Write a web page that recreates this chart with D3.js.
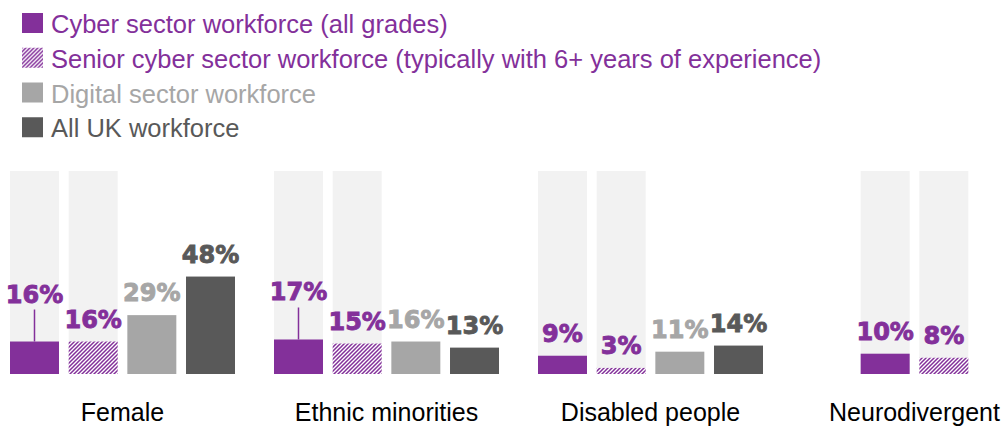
<!DOCTYPE html>
<html><head><meta charset="utf-8">
<script src="https://cdn.jsdelivr.net/npm/d3@7"></script>
<style>body{margin:0;background:#fff}svg{display:block}</style>
</head><body><svg id="c" width="1006" height="428"></svg>
<script>
// ---- data ----
const categories = ["Female", "Ethnic minorities", "Disabled people", "Neurodivergent"];
const seriesNames = [
  "Cyber sector workforce (all grades)",
  "Senior cyber sector workforce (typically with 6+ years of experience)",
  "Digital sector workforce",
  "All UK workforce"
];
const cyberAll    = [16, 17, 9, 10];
const cyberSenior = [16, 15, 3, 8];
const digital     = [29, 16, 11, null];
const allUK       = [48, 13, 14, null];
const liftedLabels = ["Female", "Ethnic minorities"]; // cyber labels drawn with a leader line
const fullScale = 100;

// ---- styles ----
const purple = "#83309a";
const colors = [purple, purple, "#a6a6a6", "#595959"];
const bgColor = "#f2f2f2";
const series = [cyberAll, cyberSenior, digital, allUK];

const svg = d3.select("#c");
const defs = svg.append("defs");
const pat = defs.append("pattern").attr("id", "hatch")
  .attr("patternUnits", "userSpaceOnUse").attr("width", 4).attr("height", 4);
pat.append("rect").attr("width", 4).attr("height", 4).attr("fill", "#fff");
pat.append("path").attr("d", "M-1,1 l2,-2 M0,4 l4,-4 M3,5 l2,-2")
  .attr("stroke", purple).attr("stroke-width", 1.5);

const fills = [purple, "url(#hatch)", colors[2], colors[3]];

// scales
const y = d3.scaleLinear().domain([0, fullScale]).range([374, 171]);
const x0 = d3.scaleBand().domain(categories).range([10, 1027]).paddingInner(39 / 264).paddingOuter(0);
const x1 = d3.scaleBand().domain(d3.range(4)).range([0, x0.bandwidth()]).paddingInner(0.165);

// build bar records
const bars = [];
categories.forEach((c, ci) => {
  const present = series.map((s, si) => si).filter(si => series[si][ci] != null);
  const offset = (series.length - present.length) / 2;
  present.forEach((si, k) => {
    bars.push({cat: c, si, v: series[si][ci], x: x0(c) + x1(offset + k)});
  });
});

const g = svg.append("g");
// background full-height bars for cyber series
g.selectAll("rect.bg").data(bars.filter(b => b.si < 2)).join("rect")
  .attr("class", "bg")
  .attr("x", d => d.x).attr("width", x1.bandwidth())
  .attr("y", y(fullScale)).attr("height", y(0) - y(fullScale))
  .attr("fill", bgColor);

g.selectAll("rect.bar").data(bars).join("rect")
  .attr("class", "bar")
  .attr("x", d => d.x).attr("width", x1.bandwidth())
  .attr("y", d => y(d.v)).attr("height", d => y(0) - y(d.v))
  .attr("fill", d => fills[d.si]);

// labels
const lift = 25;
const isLifted = d => d.si === 0 && liftedLabels.includes(d.cat);
g.selectAll("line.leader").data(bars.filter(isLifted)).join("line")
  .attr("x1", d => d.x + x1.bandwidth() / 2).attr("x2", d => d.x + x1.bandwidth() / 2)
  .attr("y1", d => y(d.v)).attr("y2", d => y(d.v) - 14 - lift + 7)
  .attr("stroke", purple).attr("stroke-width", 1.5);

g.selectAll("text.val").data(bars).join("text")
  .attr("class", "val")
  .attr("x", d => d.x + x1.bandwidth() / 2)
  .attr("y", d => y(d.v) - 14 - (isLifted(d) ? lift : 0))
  .attr("text-anchor", "middle")
  .attr("font-family", "DejaVu Sans")
  .attr("font-weight", "bold")
  .attr("font-size", 24)
  .attr("fill", d => colors[d.si])
  .attr("stroke", d => colors[d.si])
  .attr("stroke-width", 0.9)
  .text(d => d.v + "%");

// category labels
svg.append("g").selectAll("text").data(categories).join("text")
  .attr("x", c => {
    const b = bars.filter(d => d.cat === c);
    return (d3.min(b, d => d.x) + d3.max(b, d => d.x) + x1.bandwidth()) / 2;
  })
  .attr("y", 421)
  .attr("text-anchor", "middle")
  .attr("font-family", "Liberation Sans, Arial, sans-serif")
  .attr("font-size", 25)
  .attr("fill", "#000")
  .text(c => c);

// legend
const leg = svg.append("g");
const ly = d3.scaleBand().domain(d3.range(4)).range([13, 152]);
const li = leg.selectAll("g").data(seriesNames).join("g")
  .attr("transform", (d, i) => `translate(22,${ly(i)})`);
li.append("rect").attr("width", 21).attr("height", 20).attr("fill", (d, i) => fills[i]);
li.append("text").attr("x", 29).attr("y", 20)
  .attr("font-family", "Liberation Sans, Arial, sans-serif")
  .attr("font-size", 25.5)
  .attr("fill", (d, i) => colors[i])
  .text(d => d);
</script></body></html>
